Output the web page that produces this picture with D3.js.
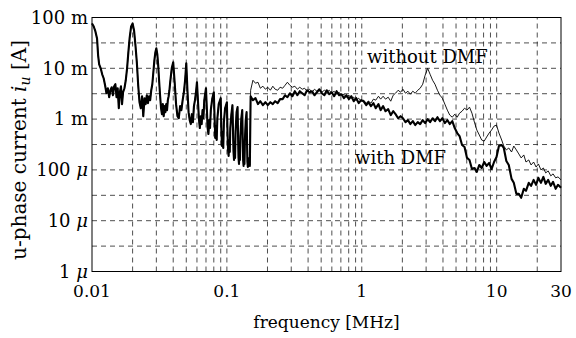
<!DOCTYPE html>
<html>
<head>
<meta charset="utf-8">
<script src="https://cdn.jsdelivr.net/npm/d3@7"></script>
<style>
  body { margin: 0; background: #fff; }
  text { font-family: 'DejaVu Serif', serif; fill: #000; }
</style>
</head>
<body>
<div id="chart"></div>
<script>
// ticks and grid
const yTickValues = [1e-1, 1e-2, 1e-3, 1e-4, 1e-5, 1e-6]
const yTickNums = ['100', '10', '1', '100', '10', '1']
const yTickUnits = ['m', 'm', 'm', 'μ', 'μ', 'μ']
const xTickValues = [0.01, 0.1, 1, 10, 30]
const xTickLabels = ['0.01', '0.1', '1', '10', '30']
const xGrid = [0.02, 0.03, 0.04, 0.05, 0.06, 0.07, 0.08, 0.09, 0.1,
  0.2, 0.3, 0.4, 0.5, 0.6, 0.7, 0.8, 0.9, 1,
  2, 3, 4, 5, 6, 7, 8, 9, 10, 20]
const yGrid = [3.16e-6, 1e-5, 3.16e-5, 1e-4, 3.16e-4, 1e-3, 3.16e-3, 1e-2, 3.16e-2]

// low band (MHz, A) - both traces coincide below 0.15 MHz
const lowBand = [
  [0.0100, 7.63e-2], [0.0103, 6.66e-2], [0.0106, 5.32e-2], [0.0109, 3.87e-2], [0.0111, 1.80e-2],
  [0.0113, 1.20e-2], [0.0116, 1.00e-2], [0.0119, 7.63e-3], [0.0122, 6.37e-3], [0.0125, 4.64e-3],
  [0.0128, 3.23e-3], [0.0131, 4.05e-3], [0.0134, 2.70e-3], [0.0137, 3.70e-3], [0.0140, 4.24e-3],
  [0.0143, 2.95e-3], [0.0146, 4.44e-3], [0.0149, 4.86e-3], [0.0152, 2.70e-3], [0.0155, 4.05e-3],
  [0.0158, 1.64e-3], [0.0161, 3.38e-3], [0.0164, 4.44e-3], [0.0167, 1.97e-3], [0.0170, 3.38e-3],
  [0.0174, 4.05e-3], [0.0178, 5.82e-3], [0.0182, 1.00e-2], [0.0186, 2.06e-2], [0.0190, 3.87e-2],
  [0.0195, 6.66e-2], [0.0200, 7.63e-2], [0.0205, 5.56e-2], [0.0210, 2.82e-2], [0.0215, 1.31e-2],
  [0.0220, 4.64e-3], [0.0225, 2.15e-3], [0.0230, 1.64e-3], [0.0235, 2.82e-3], [0.0240, 1.14e-3],
  [0.0245, 2.58e-3], [0.0250, 1.97e-3], [0.0255, 2.95e-3], [0.0260, 2.06e-3], [0.0265, 2.82e-3],
  [0.0270, 2.36e-3], [0.0275, 3.70e-3], [0.0280, 4.86e-3], [0.0285, 8.35e-3], [0.0290, 1.43e-2],
  [0.0295, 2.06e-2], [0.0300, 2.47e-2], [0.0305, 1.88e-2], [0.0310, 1.09e-2], [0.0315, 5.32e-3],
  [0.0320, 2.82e-3], [0.0325, 1.64e-3], [0.0330, 1.25e-3], [0.0335, 1.97e-3], [0.0340, 1.14e-3],
  [0.0345, 1.80e-3], [0.0350, 1.37e-3], [0.0355, 1.97e-3], [0.0360, 1.50e-3], [0.0365, 2.36e-3],
  [0.0370, 2.82e-3], [0.0375, 3.70e-3], [0.0380, 5.32e-3], [0.0390, 1.00e-2], [0.0400, 1.31e-2],
  [0.0410, 5.32e-3], [0.0420, 1.97e-3], [0.0430, 1.14e-3], [0.0440, 1.04e-3], [0.0450, 1.80e-3],
  [0.0460, 1.50e-3], [0.0470, 2.36e-3], [0.0480, 3.38e-3], [0.0490, 5.82e-3], [0.0500, 1.25e-2],
  [0.0510, 3.70e-3], [0.0520, 1.37e-3], [0.0530, 9.56e-4], [0.0540, 7.98e-4], [0.0550, 1.25e-3],
  [0.0560, 8.73e-4], [0.0570, 1.80e-3], [0.0580, 2.36e-3], [0.0590, 3.38e-3], [0.0600, 5.32e-3],
  [0.0610, 2.36e-3], [0.0620, 1.04e-3], [0.0630, 6.66e-4], [0.0640, 1.14e-3], [0.0650, 7.98e-4],
  [0.0660, 1.50e-3], [0.0670, 1.04e-3], [0.0680, 2.36e-3], [0.0700, 4.05e-3], [0.0710, 1.64e-3],
  [0.0720, 6.66e-4], [0.0730, 5.08e-4], [0.0740, 9.56e-4], [0.0750, 6.66e-4], [0.0760, 1.50e-3],
  [0.0780, 2.58e-3], [0.0800, 3.38e-3], [0.0810, 1.14e-3], [0.0820, 4.24e-4], [0.0830, 7.29e-4],
  [0.0840, 3.87e-4], [0.0850, 1.04e-3], [0.0870, 1.97e-3], [0.0900, 2.58e-3], [0.0910, 6.09e-4],
  [0.0920, 2.95e-4], [0.0930, 5.56e-4], [0.0940, 2.70e-4], [0.0950, 8.73e-4], [0.0970, 1.64e-3],
  [0.1000, 2.15e-3], [0.1010, 6.09e-4], [0.1020, 2.47e-4], [0.1030, 1.88e-4], [0.1040, 3.87e-4],
  [0.1050, 2.25e-4], [0.1060, 6.66e-4], [0.1080, 1.25e-3], [0.1100, 1.88e-3], [0.1110, 6.09e-4],
  [0.1120, 2.25e-4], [0.1130, 1.57e-4], [0.1140, 2.95e-4], [0.1150, 1.72e-4], [0.1160, 5.56e-4],
  [0.1180, 1.37e-3], [0.1200, 1.72e-3], [0.1210, 4.86e-4], [0.1220, 1.72e-4], [0.1230, 1.31e-4],
  [0.1240, 2.47e-4], [0.1250, 1.57e-4], [0.1260, 4.64e-4], [0.1280, 1.04e-3], [0.1300, 1.50e-3],
  [0.1310, 4.24e-4], [0.1320, 1.57e-4], [0.1330, 1.20e-4], [0.1340, 2.06e-4], [0.1350, 1.31e-4],
  [0.1360, 3.87e-4], [0.1380, 9.56e-4], [0.1400, 1.37e-3], [0.1410, 3.87e-4], [0.1420, 1.43e-4],
  [0.1430, 1.14e-4], [0.1440, 1.72e-4], [0.1450, 1.25e-4], [0.1460, 1.57e-4], [0.1480, 1.20e-4]
]

// sweep above 0.15 MHz
const sweepFreq = [
  0.150, 0.156, 0.163, 0.170, 0.177, 0.185, 0.193, 0.201, 0.210, 0.219,
  0.228, 0.238, 0.248, 0.259, 0.270, 0.281, 0.293, 0.306, 0.319, 0.333,
  0.347, 0.362, 0.377, 0.393, 0.410, 0.428, 0.446, 0.465, 0.485, 0.506,
  0.528, 0.550, 0.574, 0.598, 0.624, 0.651, 0.679, 0.708, 0.738, 0.770,
  0.803, 0.837, 0.873, 0.910, 0.949, 0.990, 1.03, 1.08, 1.12, 1.17,
  1.22, 1.27, 1.33, 1.38, 1.44, 1.50, 1.57, 1.64, 1.71, 1.78,
  1.86, 1.94, 2.02, 2.11, 2.20, 2.29, 2.39, 2.49, 2.60, 2.71,
  2.83, 2.95, 3.08, 3.21, 3.35, 3.49, 3.64, 3.80, 3.96, 4.13,
  4.31, 4.49, 4.69, 4.89, 5.10, 5.31, 5.54, 5.78, 6.03, 6.29,
  6.56, 6.84, 7.13, 7.44, 7.75, 8.09, 8.43, 8.80, 9.17, 9.57,
  9.98, 10.4, 10.9, 11.3, 11.8, 12.3, 12.9, 13.4, 14.0, 14.6,
  15.2, 15.9, 16.5, 17.3, 18.0, 18.8, 19.6, 20.4, 21.3, 22.2,
  23.1, 24.1, 25.2, 26.2, 27.4, 28.5, 30.0
]
const withDMF = [
  2.82e-3, 2.36e-3, 2.58e-3, 1.97e-3, 2.25e-3, 1.88e-3, 2.15e-3, 1.88e-3, 2.15e-3, 1.97e-3,
  2.25e-3, 2.06e-3, 2.47e-3, 2.47e-3, 2.95e-3, 2.70e-3, 3.23e-3, 2.82e-3, 3.54e-3, 2.95e-3,
  3.54e-3, 3.23e-3, 2.95e-3, 3.70e-3, 3.38e-3, 3.54e-3, 2.95e-3, 3.38e-3, 3.87e-3, 3.23e-3,
  2.95e-3, 3.70e-3, 3.09e-3, 3.38e-3, 2.82e-3, 3.54e-3, 2.95e-3, 3.09e-3, 2.58e-3, 2.95e-3,
  2.47e-3, 2.82e-3, 2.25e-3, 2.58e-3, 2.06e-3, 2.36e-3, 2.25e-3, 1.88e-3, 2.15e-3, 1.80e-3,
  2.06e-3, 1.64e-3, 1.97e-3, 1.50e-3, 1.80e-3, 1.43e-3, 1.57e-3, 1.20e-3, 1.43e-3, 1.25e-3,
  1.04e-3, 1.14e-3, 1.04e-3, 8.73e-4, 9.56e-4, 7.98e-4, 9.14e-4, 7.63e-4, 8.73e-4, 7.98e-4,
  9.56e-4, 8.35e-4, 1.00e-3, 8.73e-4, 1.04e-3, 9.14e-4, 1.09e-3, 9.14e-4, 1.04e-3, 8.35e-4,
  9.56e-4, 7.98e-4, 9.14e-4, 6.66e-4, 5.32e-4, 4.64e-4, 3.09e-4, 2.82e-4, 1.72e-4, 1.57e-4,
  1.04e-4, 1.09e-4, 9.14e-5, 1.25e-4, 1.09e-4, 1.43e-4, 1.20e-4, 1.37e-4, 1.04e-4, 1.43e-4,
  1.80e-4, 2.95e-4, 3.09e-4, 2.70e-4, 1.50e-4, 1.25e-4, 6.66e-5, 5.56e-5, 3.38e-5, 3.38e-5,
  2.82e-5, 4.24e-5, 3.87e-5, 5.56e-5, 4.86e-5, 6.37e-5, 5.08e-5, 6.97e-5, 5.56e-5, 7.29e-5,
  5.32e-5, 6.37e-5, 4.86e-5, 5.82e-5, 4.24e-5, 5.08e-5, 4.44e-5
]
const withoutDMF = [
  3.70e-3, 5.82e-3, 5.08e-3, 5.32e-3, 4.05e-3, 4.44e-3, 3.87e-3, 4.24e-3, 3.70e-3, 4.44e-3,
  3.87e-3, 3.70e-3, 4.24e-3, 4.05e-3, 4.64e-3, 5.32e-3, 4.64e-3, 4.24e-3, 4.44e-3, 3.87e-3,
  4.24e-3, 3.87e-3, 4.05e-3, 3.54e-3, 3.87e-3, 3.38e-3, 3.87e-3, 3.54e-3, 3.87e-3, 3.38e-3,
  3.70e-3, 3.38e-3, 3.70e-3, 3.23e-3, 3.54e-3, 3.09e-3, 3.38e-3, 2.95e-3, 3.09e-3, 2.70e-3,
  2.95e-3, 2.58e-3, 2.70e-3, 2.36e-3, 2.58e-3, 2.25e-3, 2.36e-3, 2.06e-3, 2.25e-3, 2.06e-3,
  2.47e-3, 2.36e-3, 2.82e-3, 2.47e-3, 2.82e-3, 2.47e-3, 2.70e-3, 2.25e-3, 2.95e-3, 3.23e-3,
  3.70e-3, 3.38e-3, 3.87e-3, 3.23e-3, 3.54e-3, 3.09e-3, 3.54e-3, 3.23e-3, 3.70e-3, 4.05e-3,
  4.86e-3, 7.29e-3, 1.00e-2, 7.63e-3, 5.82e-3, 4.86e-3, 3.70e-3, 2.95e-3, 2.58e-3, 1.97e-3,
  1.50e-3, 1.20e-3, 1.09e-3, 1.25e-3, 1.09e-3, 1.31e-3, 1.43e-3, 1.64e-3, 1.50e-3, 1.72e-3,
  1.31e-3, 8.73e-4, 6.09e-4, 4.86e-4, 3.87e-4, 3.70e-4, 4.44e-4, 5.32e-4, 6.09e-4, 7.29e-4,
  7.63e-4, 5.32e-4, 3.87e-4, 2.95e-4, 2.47e-4, 2.70e-4, 2.25e-4, 2.95e-4, 2.47e-4, 2.06e-4,
  1.72e-4, 1.97e-4, 1.43e-4, 1.57e-4, 1.25e-4, 1.43e-4, 1.14e-4, 1.31e-4, 1.00e-4, 1.09e-4,
  8.73e-5, 9.56e-5, 7.63e-5, 8.35e-5, 6.97e-5, 7.29e-5, 6.37e-5
]

const width = 576
const height = 338
const margin = { top: 17.5, right: 15, bottom: 66.5, left: 92 }

const svg = d3.select('#chart')
  .append('svg')
  .attr('width', width)
  .attr('height', height)

svg.append('rect').attr('width', width).attr('height', height).attr('fill', '#fff')

const x = d3.scaleLog().domain([0.01, 30]).range([margin.left, width - margin.right])
const y = d3.scaleLog().domain([1e-6, 1e-1]).range([height - margin.bottom, margin.top])

// dashed grid
const grid = svg.append('g').attr('stroke', '#222').attr('stroke-width', 0.8).attr('stroke-dasharray', '5,4')
grid.selectAll('.gx').data(xGrid).enter().append('line')
  .attr('x1', d => x(d)).attr('x2', d => x(d))
  .attr('y1', y(1e-6)).attr('y2', y(1e-1))
grid.selectAll('.gy').data(yGrid).enter().append('line')
  .attr('x1', x(0.01)).attr('x2', x(30))
  .attr('y1', d => y(d)).attr('y2', d => y(d))

// traces
const seriesWith = lowBand.concat(sweepFreq.map((f, i) => [f, withDMF[i]]))
const seriesWithout = lowBand.concat(sweepFreq.map((f, i) => [f, withoutDMF[i]]))

const line = d3.line().x(d => x(d[0])).y(d => y(d[1]))

svg.append('path').datum(seriesWith)
  .attr('fill', 'none').attr('stroke', '#000').attr('stroke-width', 2.1)
  .attr('stroke-linejoin', 'round').attr('d', line)
svg.append('path').datum(seriesWithout)
  .attr('fill', 'none').attr('stroke', '#000').attr('stroke-width', 0.9)
  .attr('stroke-linejoin', 'round').attr('d', line)

// frame
svg.append('rect')
  .attr('x', x(0.01)).attr('y', y(1e-1))
  .attr('width', x(30) - x(0.01)).attr('height', y(1e-6) - y(1e-1))
  .attr('fill', 'none').attr('stroke', '#000').attr('stroke-width', 1)

// y tick labels
const yLab = svg.append('g').attr('font-size', 18)
yTickValues.forEach((v, i) => {
  const t = yLab.append('text')
    .attr('x', margin.left - 4).attr('y', y(v)).attr('dy', '0.35em')
    .attr('text-anchor', 'end')
  t.append('tspan').text(yTickNums[i] + ' ')
  t.append('tspan').attr('font-style', yTickUnits[i] === 'μ' ? 'italic' : 'normal').text(yTickUnits[i])
})

// x tick labels
svg.append('g').attr('font-size', 17)
  .selectAll('text').data(xTickValues).enter().append('text')
  .attr('x', d => x(d)).attr('y', 297)
  .attr('text-anchor', 'middle')
  .text((d, i) => xTickLabels[i])

// axis titles
svg.append('text')
  .attr('x', (x(0.01) + x(30)) / 2).attr('y', 328)
  .attr('text-anchor', 'middle').attr('font-size', 17)
  .text('frequency [MHz]')

const yt = svg.append('text')
  .attr('transform', 'translate(26,150) rotate(-90)')
  .attr('text-anchor', 'middle').attr('font-size', 20)
yt.append('tspan').text('u-phase current ')
yt.append('tspan').attr('font-style', 'italic').text('i')
yt.append('tspan').attr('font-style', 'italic').attr('font-size', 14).attr('dy', 4).text('u')
yt.append('tspan').attr('dy', -4).text(' [A]')

// annotations
svg.append('text').attr('x', 367).attr('y', 63).attr('font-size', 18).text('without DMF')
svg.append('text').attr('x', 355).attr('y', 164).attr('font-size', 18).text('with DMF')
</script>
</body>
</html>
